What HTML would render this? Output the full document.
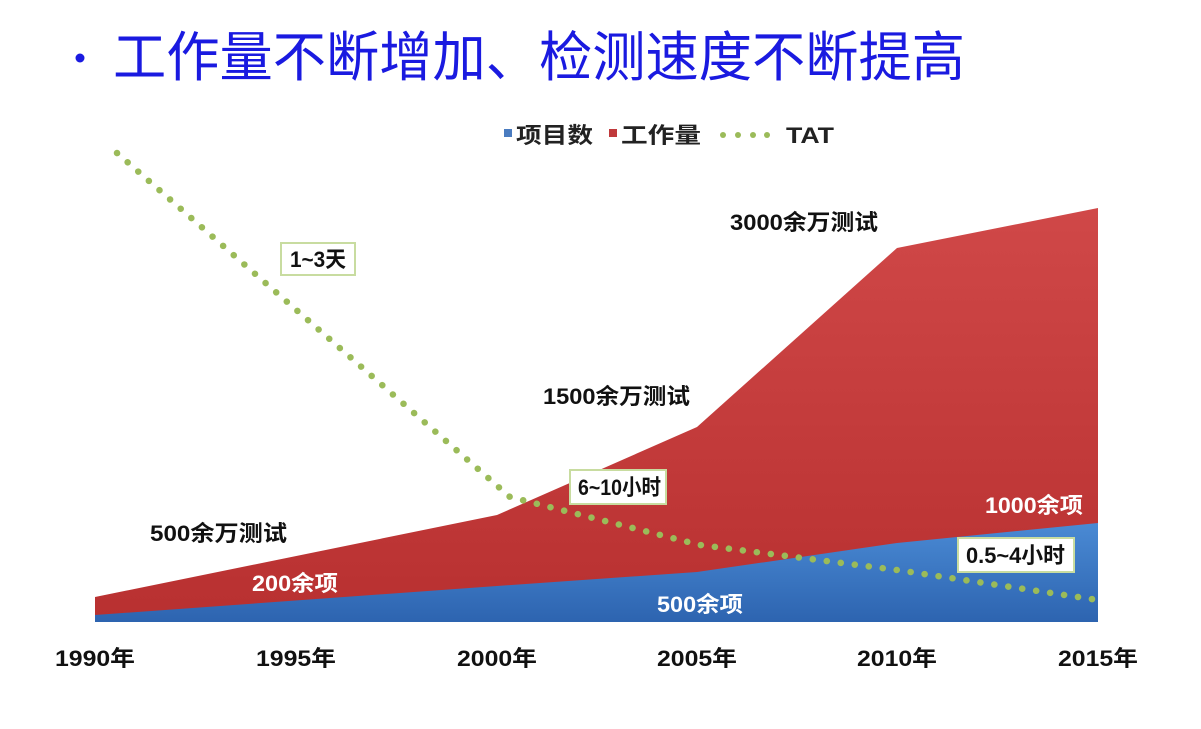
<!DOCTYPE html>
<html><head><meta charset="utf-8"><style>
body{margin:0;background:#fff;}
svg{display:block;font-family:"Liberation Sans","Noto Sans CJK SC",sans-serif;}
</style></head><body>
<svg width="1201" height="729" viewBox="0 0 1201 729">
<defs>
<linearGradient id="rg" x1="0" y1="0" x2="0" y2="1"><stop offset="0" stop-color="#d04848"/><stop offset="1" stop-color="#b83030"/></linearGradient>
<linearGradient id="bg" x1="0" y1="0" x2="0" y2="1"><stop offset="0" stop-color="#4a8ad4"/><stop offset="1" stop-color="#2d64b0"/></linearGradient>
</defs>
<circle cx="80" cy="58" r="4.5" fill="#1a1ae0"/>
<text x="113" y="76" font-size="54" fill="#1a1ae0" textLength="852" lengthAdjust="spacingAndGlyphs">工作量不断增加、检测速度不断提高</text>
<g font-weight="bold" font-size="22" fill="#222">
<rect x="504" y="129" width="8" height="8" fill="#4a7cc0"/>
<text x="516" y="143" textLength="77" lengthAdjust="spacingAndGlyphs">项目数</text>
<rect x="609" y="129" width="8" height="8" fill="#c0393b"/>
<text x="621" y="143" textLength="80" lengthAdjust="spacingAndGlyphs">工作量</text>
<g fill="#9bbb59"><circle cx="723" cy="135" r="3"/><circle cx="738" cy="135" r="3"/><circle cx="753" cy="135" r="3"/><circle cx="767" cy="135" r="3"/></g>
<text x="786" y="143" textLength="48" lengthAdjust="spacingAndGlyphs">TAT</text>
</g>
<polygon points="95,597 497,515 697,427 897,248 1098,208 1098,622 95,622" fill="url(#rg)"/>
<polygon points="95,615 497,586 697,572 897,543 1098,523 1098,622 95,622" fill="url(#bg)"/>
<polyline points="117,153 510,497 700,545 897,570 1098,600" fill="none" stroke="#9bbb59" stroke-width="6.5" stroke-linecap="round" stroke-dasharray="0.1 14"/>
<g font-weight="bold" font-size="22" lengthAdjust="spacingAndGlyphs">
<rect x="281" y="243" width="74" height="32" fill="#fff" stroke="#c8dca0" stroke-width="2"/>
<text x="290" y="267" fill="#111" textLength="56" lengthAdjust="spacingAndGlyphs">1~3天</text>
<rect x="570" y="470" width="96" height="34" fill="#fff" stroke="#c8dca0" stroke-width="2"/>
<text x="578" y="495" fill="#111" textLength="83" lengthAdjust="spacingAndGlyphs">6~10小时</text>
<rect x="958" y="538" width="116" height="34" fill="#fff" stroke="#c8dca0" stroke-width="2"/>
<text x="966" y="563" fill="#111" textLength="99" lengthAdjust="spacingAndGlyphs">0.5~4小时</text>
<text x="730" y="230" fill="#111" textLength="148" lengthAdjust="spacingAndGlyphs">3000余万测试</text>
<text x="543" y="404" fill="#111" textLength="147" lengthAdjust="spacingAndGlyphs">1500余万测试</text>
<text x="150" y="541" fill="#111" textLength="137" lengthAdjust="spacingAndGlyphs">500余万测试</text>
<text x="252" y="591" fill="#fff" textLength="86" lengthAdjust="spacingAndGlyphs">200余项</text>
<text x="657" y="612" fill="#fff" textLength="86" lengthAdjust="spacingAndGlyphs">500余项</text>
<text x="985" y="513" fill="#fff" textLength="98" lengthAdjust="spacingAndGlyphs">1000余项</text>
<g fill="#111">
<text x="55" y="666" textLength="80" lengthAdjust="spacingAndGlyphs">1990年</text>
<text x="256" y="666" textLength="80" lengthAdjust="spacingAndGlyphs">1995年</text>
<text x="457" y="666" textLength="80" lengthAdjust="spacingAndGlyphs">2000年</text>
<text x="657" y="666" textLength="80" lengthAdjust="spacingAndGlyphs">2005年</text>
<text x="857" y="666" textLength="80" lengthAdjust="spacingAndGlyphs">2010年</text>
<text x="1058" y="666" textLength="80" lengthAdjust="spacingAndGlyphs">2015年</text>
</g>
</g>
</svg>
</body></html>
